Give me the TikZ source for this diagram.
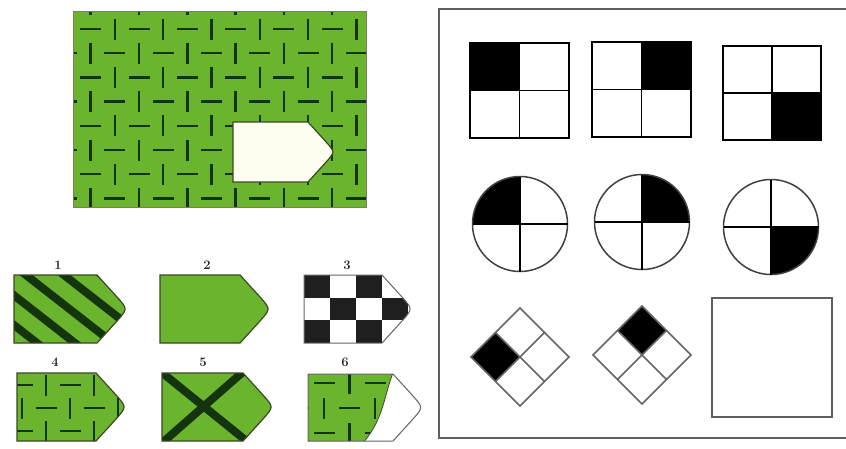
\documentclass[tikz,border=0pt]{standalone}

\definecolor{leaf}{RGB}{106,180,46}
\definecolor{ink}{RGB}{20,52,14}
\definecolor{rim}{RGB}{60,72,36}
\definecolor{cream}{RGB}{253,253,240}
\definecolor{frame}{RGB}{95,95,95}

\tikzset{
  tagline/.style={draw=rim, line width=1.2pt},
  weavedash/.style={ink, line width=2.5pt},
  band/.style={ink, line width=8pt},
  num/.style={font=\fontsize{13}{13}\selectfont\bfseries, text=black!85},
  cellline/.style={black, line width=1.8pt},
  rimline/.style={black!75, line width=1.5pt},
  diamline/.style={black!60, line width=1.5pt}
}

% pentagon tag: left x, top y, body length, height
\newcommand{\tagpath}[4]{(#1,#2) -- ({#1+#3},#2) -- ({#1+#3+0.3*#4},{#2+0.33*#4}) .. controls ({#1+#3+0.45*#4},{#2+0.5*#4}) .. ({#1+#3+0.3*#4},{#2+0.67*#4}) -- ({#1+#3},{#2+#4}) -- (#1,{#2+#4}) -- cycle}

% basket weave: first cell centre x, y, cell width, height, last column, last row
\newcommand{\weave}[6]{
  \foreach \i in {-1,...,#5} \foreach \k in {-1,...,#6} {
    \pgfmathtruncatemacro\wpar{mod(\i+\k+2,2)}
    \ifnum\wpar=0
      \draw[weavedash] ({#1+\i*#3-10.5},{#2+\k*#4}) -- ++(21,0);
    \else
      \draw[weavedash] ({#1+\i*#3},{#2+\k*#4-10.5}) -- ++(0,21);
    \fi
  }
}

\begin{document}
\begin{tikzpicture}[x=1pt,y=-1pt]
\useasboundingbox (0,0) rectangle (846,448);
\fill[white] (0,0) rectangle (846,448);

% wall with the missing piece
\begin{scope}
\clip (73,11) rectangle (366,207);
\fill[leaf] (73,11) rectangle (366,207);
\weave{90.7}{29}{24.15}{24.2}{12}{8}
\end{scope}
\draw[rim!70, line width=1pt] (73,11) rectangle (366,207);
\filldraw[fill=cream, draw=rim, line width=1.2pt] \tagpath{233}{122}{75}{60};

% answer pieces
\foreach \n/\x/\y in {1/58/265, 2/207/265, 3/347/265, 4/55/362, 5/203/362, 6/345/362}
  \node[num] (lab\n) at (\x,\y) {\n};

% 1
\begin{scope}
\clip \tagpath{14}{275}{83}{68};
\fill[leaf] (0,260) rectangle (140,350);
\foreach \s in {-88,-50,...,102} \draw[band] (\s-50,236) -- ++(160,125);
\end{scope}
\draw[tagline] \tagpath{14}{275}{83}{68};

% 2
\filldraw[fill=leaf, tagline] \tagpath{160}{275}{80}{68};

% 3
\begin{scope}
\clip \tagpath{304}{275}{78}{68};
\foreach \c in {0,...,4} \foreach \r in {0,1,2} {
  \pgfmathtruncatemacro\wpar{mod(\c+\r,2)}
  \ifnum\wpar=0 \fill[black!88] ({304+26*\c},{275+22.67*\r}) rectangle ++(26,22.67); \fi
}
\end{scope}
\draw[black!60, line width=1pt] \tagpath{304}{275}{78}{68};

% 4
\begin{scope}
\clip \tagpath{17}{373}{79}{68};
\fill[leaf] (0,360) rectangle (140,450);
\weave{22}{385}{24}{23}{5}{3}
\end{scope}
\draw[tagline] \tagpath{17}{373}{79}{68};

% 5
\begin{scope}
\clip \tagpath{162}{373}{81}{68};
\fill[leaf] (150,360) rectangle (290,450);
\draw[band] (160,371) -- (249,443);
\draw[band] (244,371) -- (162,443);
\end{scope}
\draw[tagline] \tagpath{162}{373}{81}{68};

% 6
\begin{scope}
\clip \tagpath{308}{374}{85}{67};
\fill[leaf] (300,360) rectangle (440,450);
\weave{324}{383}{25.5}{25}{5}{3}
\fill[white] (394,370) .. controls (383,398) and (384,420) .. (361,445) -- (440,445) -- (440,370) -- cycle;
\draw[rim, line width=0.8pt] (394,370) .. controls (383,398) and (384,420) .. (361,445);
\end{scope}
\draw[black!60, line width=1pt] \tagpath{308}{374}{85}{67};

% matrix panel
\draw[frame, line width=2pt] (439,9) rectangle (860,438);

% squares
\fill (470,43) rectangle (519.5,90.5);
\draw[cellline] (470,43) rectangle (569,138) (519.5,43) -- (519.5,138) (470,90.5) -- (569,90.5);
\fill (641.5,42) rectangle (691,89.5);
\draw[cellline] (592,42) rectangle (691,137) (641.5,42) -- (641.5,137) (592,89.5) -- (691,89.5);
\fill (772,93) rectangle (821,140);
\draw[cellline] (723,46) rectangle (821,140) (772,46) -- (772,140) (723,93) -- (821,93);

% circles
\foreach \cx/\cy/\qx/\qy in {520/224/-1/-1, 642/222/1/-1, 771/227/1/1} {
  \begin{scope}
  \clip (\cx,\cy) circle (47.5pt);
  \fill (\cx,\cy) rectangle ++(\qx*50,\qy*50);
  \end{scope}
  \draw[rimline] (\cx,\cy) circle (47.5pt);
  \draw[cellline] (\cx,\cy-47.5) -- (\cx,\cy+47.5) (\cx-47.5,\cy) -- (\cx+47.5,\cy);
}

% diamonds
\fill (471,357) -- (495.5,332.5) -- (520,357) -- (495.5,381.5) -- cycle;
\draw[diamline] (471,357) -- (520,308) -- (569,357) -- (520,406) -- cycle
  (495.5,332.5) -- (544.5,381.5) (544.5,332.5) -- (495.5,381.5);
\fill (642,306) -- (666.5,330.5) -- (642,355) -- (617.5,330.5) -- cycle;
\draw[diamline] (593,355) -- (642,306) -- (691,355) -- (642,404) -- cycle
  (617.5,330.5) -- (666.5,379.5) (666.5,330.5) -- (617.5,379.5);

% empty answer slot
\draw[frame, line width=2pt] (712,298) rectangle (832,417);
\end{tikzpicture}
\end{document}
